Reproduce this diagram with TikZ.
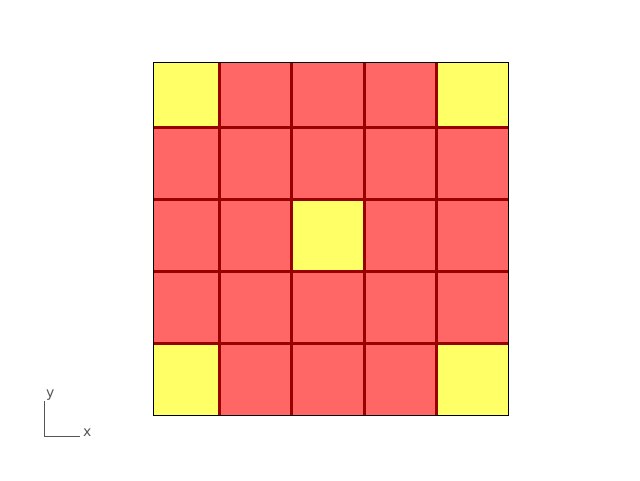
\documentclass[tikz,border=0pt]{standalone}
\usepackage{fontspec}
\setmainfont{DejaVu Sans}
\definecolor{cellred}{HTML}{FF6666}
\definecolor{cellyel}{HTML}{FFFF66}
\definecolor{gridred}{HTML}{990000}
\definecolor{axgray}{HTML}{555555}
\tikzset{
  cell/.style={fill=cellred, draw=none},
  ycell/.style={fill=cellyel, draw=none},
  gridline/.style={draw=gridred, line width=3pt},
  axisline/.style={draw=axgray, line width=0.8pt},
  axislabel/.style={text=axgray, font=\fontsize{14}{14}\selectfont, inner sep=0pt}
}
\begin{document}
\begin{tikzpicture}[x=1pt,y=-1pt]
\useasboundingbox (0,0) rectangle (640,480);
\def\xs{{153,219,291.5,364,436,508}}
\def\ys{{62,127,199,271,343,415}}
% cells
\foreach \i in {0,...,4}{
  \foreach \j in {0,...,4}{
    \pgfmathsetmacro\xa{\xs[\i]}
    \pgfmathsetmacro\xb{\xs[\i+1]}
    \pgfmathsetmacro\ya{\ys[\j]}
    \pgfmathsetmacro\yb{\ys[\j+1]}
    \path[cell] (\xa,\ya) rectangle (\xb,\yb);
  }
}
\path[ycell] (153,62) rectangle (219,127);
\path[ycell] (436,62) rectangle (508,127);
\path[ycell] (153,343) rectangle (219,415);
\path[ycell] (436,343) rectangle (508,415);
\path[ycell] (291.5,199) rectangle (364,271);
% grid lines
\coordinate (v1t) at (219,62);  \coordinate (v1b) at (219,415);
\coordinate (v2t) at (291.5,62);\coordinate (v2b) at (291.5,415);
\coordinate (v3t) at (364,62);  \coordinate (v3b) at (364,415);
\coordinate (v4t) at (436,62);  \coordinate (v4b) at (436,415);
\coordinate (h1l) at (153,127); \coordinate (h1r) at (508,127);
\coordinate (h2l) at (153,199); \coordinate (h2r) at (508,199);
\coordinate (h3l) at (153,271); \coordinate (h3r) at (508,271);
\coordinate (h4l) at (153,343); \coordinate (h4r) at (508,343);
\draw[gridline] (v1t) -- (v1b);
\draw[gridline] (v2t) -- (v2b);
\draw[gridline] (v3t) -- (v3b);
\draw[gridline] (v4t) -- (v4b);
\draw[gridline] (h1l) -- (h1r);
\draw[gridline] (h2l) -- (h2r);
\draw[gridline] (h3l) -- (h3r);
\draw[gridline] (h4l) -- (h4r);
% outer frame
\node[draw=black, line width=1pt, minimum width=355pt, minimum height=353pt, inner sep=0pt, anchor=north west] (frame) at (153,62) {};
% axis indicator
\coordinate (ax0) at (44.5,436);
\coordinate (axy) at (44.5,401);
\coordinate (axx) at (80,436);
\draw[axisline] (axy) -- (ax0) -- (axx);
\node[axislabel, anchor=south west] (ylab) at (46,401) {y};
\node[axislabel, anchor=west] (xlab) at (83,433) {x};
\end{tikzpicture}
\end{document}
